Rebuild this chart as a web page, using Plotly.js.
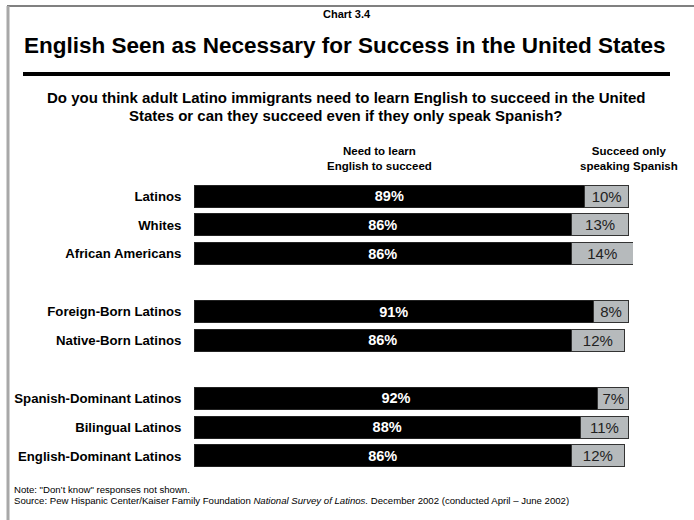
<!DOCTYPE html>
<html>
<head>
<meta charset="utf-8">
<script src="https://cdn.plot.ly/plotly-3.0.1.min.js"></script>
<style>html,body{margin:0;padding:0;background:#fff;}#chart{width:694px;height:520px;}</style>
</head>
<body>
<div id="chart"></div>
<script>
const categories = ["Latinos","Whites","African Americans","Foreign-Born Latinos","Native-Born Latinos","Spanish-Dominant Latinos","Bilingual Latinos","English-Dominant Latinos"];
const slots = [0,1,2,4,5,7,8,9];
const needEnglish = [89,86,86,91,86,92,88,86];
const spanishOnly = [10,13,14,8,12,7,11,12];

const W = 694, H = 520;
const FONT = "Liberation Sans, Arial, sans-serif";

const traces = [
  {
    type: 'bar', orientation: 'h', y: slots, x: needEnglish, width: 0.76,
    marker: {color: '#000000', line: {color: '#222222', width: 1}},
    text: needEnglish.map(v => v + '%'), textposition: 'inside', insidetextanchor: 'middle',
    textfont: {family: FONT, size: 14.5, color: '#ffffff', weight: 'bold'},
    constraintext: 'none', hoverinfo: 'skip', cliponaxis: false
  },
  {
    type: 'bar', orientation: 'h', y: slots, x: spanishOnly, width: 0.76,
    marker: {color: '#b6babc', line: {color: '#333333', width: 1}},
    text: spanishOnly.map(v => v + '%'), textposition: 'inside', insidetextanchor: 'middle',
    textfont: {family: FONT, size: 15, color: '#222222'},
    constraintext: 'none', hoverinfo: 'skip', cliponaxis: false
  }
];

const yTop = 181.6, yBot = 470.4;
const layout = {
  width: W, height: H,
  margin: {l: 0, r: 0, t: 0, b: 0},
  paper_bgcolor: '#ffffff', plot_bgcolor: '#ffffff',
  barmode: 'stack', showlegend: false,
  font: {family: FONT, color: '#000'},
  xaxis: {
    domain: [194/W, 633/W], range: [0, 100],
    showgrid: false, zeroline: false, showticklabels: false, showline: false, fixedrange: true
  },
  yaxis: {
    domain: [(H - yBot)/H, (H - yTop)/H], range: [9.5, -0.5],
    tickvals: slots, ticktext: categories,
    tickfont: {family: FONT, size: 13.2, color: '#000', weight: 'bold'},
    ticks: 'outside', ticklen: 9, tickcolor: 'rgba(0,0,0,0)',
    showgrid: false, zeroline: false, showline: false, fixedrange: true
  },
  shapes: [
    {type: 'line', xref: 'paper', yref: 'paper', x0: 7/W, x1: 1, y0: 1 - 6/H, y1: 1 - 6/H, line: {color: '#808080', width: 2}},
    {type: 'line', xref: 'paper', yref: 'paper', x0: 8/W, x1: 8/W, y0: 0, y1: 1 - 6/H, line: {color: '#a8a8a8', width: 3}},
    {type: 'line', xref: 'paper', yref: 'paper', x0: 23/W, x1: 670/W, y0: 1 - 74/H, y1: 1 - 74/H, line: {color: '#000', width: 4}}
  ],
  annotations: [
    {text: '<b>Chart 3.4</b>', x: 347/W, y: 1 - 14/H, xref: 'paper', yref: 'paper', showarrow: false, xanchor: 'center', yanchor: 'middle', font: {size: 11}},
    {text: '<b>English Seen as Necessary for Success in the United States</b>', x: 345/W, y: 1 - 45/H, xref: 'paper', yref: 'paper', showarrow: false, xanchor: 'center', yanchor: 'middle', font: {size: 22.5}},
    {text: '<b>Do you think adult Latino immigrants need to learn English to succeed in the United</b>', x: 346/W, y: 1 - 97/H, xref: 'paper', yref: 'paper', showarrow: false, xanchor: 'center', yanchor: 'middle', font: {size: 15}},
    {text: '<b>States or can they succeed even if they only speak Spanish?</b>', x: 346/W, y: 1 - 115/H, xref: 'paper', yref: 'paper', showarrow: false, xanchor: 'center', yanchor: 'middle', font: {size: 15}},
    {text: '<b>Need to learn<br>English to succeed</b>', x: 379/W, y: 1 - 158/H, xref: 'paper', yref: 'paper', showarrow: false, xanchor: 'center', yanchor: 'middle', align: 'center', font: {size: 11.5}},
    {text: '<b>Succeed only<br>speaking Spanish</b>', x: 629/W, y: 1 - 158/H, xref: 'paper', yref: 'paper', showarrow: false, xanchor: 'center', yanchor: 'middle', align: 'center', font: {size: 11.5}},
    {text: 'Note: "Don\u2019t know" responses not shown.', x: 12/W, y: 1 - 489/H, xref: 'paper', yref: 'paper', showarrow: false, xanchor: 'left', yanchor: 'middle', align: 'left', font: {size: 9.6}},
    {text: 'Source: Pew Hispanic Center/Kaiser Family Foundation <i>National Survey of Latinos.</i> December 2002 (conducted April \u2013 June 2002)', x: 12/W, y: 1 - 500/H, xref: 'paper', yref: 'paper', showarrow: false, xanchor: 'left', yanchor: 'middle', align: 'left', font: {size: 9.6}}
  ]
};

Plotly.newPlot('chart', traces, layout, {displayModeBar: false, staticPlot: true});
</script>
</body>
</html>
